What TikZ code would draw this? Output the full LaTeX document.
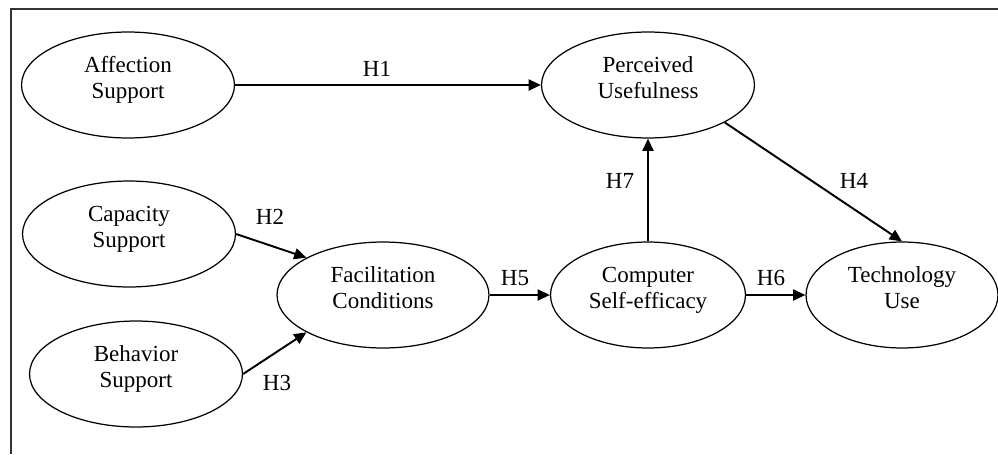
\documentclass[tikz,border=0pt]{standalone}
\usepackage{fontspec}
\setmainfont{Liberation Serif}
\usetikzlibrary{shapes.geometric,arrows.meta}
\begin{document}
\begin{tikzpicture}[x=0.02cm,y=-0.02cm,
construct/.style ={ellipse, draw, line width=0.7pt,
  minimum width=4.26cm, minimum height=2.12cm,
  align=center, inner sep=0pt, font=\fontsize{13.1}{14.8}\selectfont,
  execute at end node={\rule[-3mm]{0pt}{0pt}}
},
link/.style ={-{Triangle[length=7pt,width=6.3pt]}, line width=1.1pt},
hyp/.style ={inner sep=0pt, font=\fontsize{13.1}{14.8}\selectfont}]
\useasboundingbox (0,0) rectangle (998,454);
\draw[line width=1.1pt, black!80] (11,454) -- (11,9) -- (998,9);

\node (as) at (128,85) [construct] {Affection\\Support};
\node (cs) at (129,234) [construct] {Capacity\\Support};
\node (bs) at (136,374) [construct] {Behavior\\Support};

\node (fc) at (383,295) [construct, minimum width=4.24cm] {Facilitation\\Conditions};
\node (pu) at (648,85) [construct] {Perceived\\Usefulness};
\node (ce) at (648,295) [construct, minimum width=3.9cm] {Computer\\Self-efficacy};
\node (tu) at (902,295) [construct, minimum width=3.84cm] {Technology\\Use};

\draw[link] (as.east) -- (pu.west);
\draw[link] (cs.east) -- (fc.154);
\draw[link] (bs.east) -- (fc.206);
\draw[link] (fc.east) -- (ce.west);
\draw[link] (ce.east) -- (tu.west);
\draw[link] (ce.north) -- (pu.south);
\draw[link] (pu.-26) -- (tu.north);

\node (h1) at (377,69) [hyp] {H1};
\node (h2) at (270,217) [hyp] {H2};
\node (h3) at (277,383) [hyp] {H3};
\node (h4) at (854,181) [hyp] {H4};
\node (h5) at (515,278) [hyp] {H5};
\node (h6) at (771,278) [hyp] {H6};
\node (h7) at (620,181) [hyp] {H7};

\end{tikzpicture}
\end{document}
